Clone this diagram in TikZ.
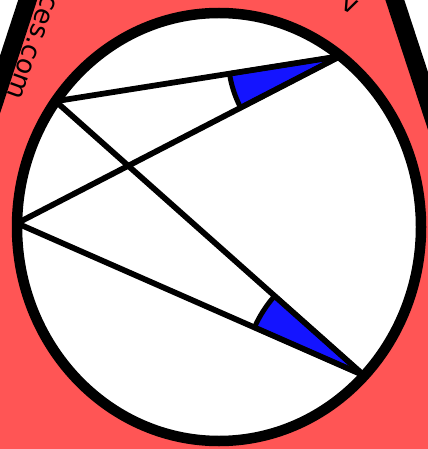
\documentclass[tikz,border=0pt]{standalone}
\usepackage{fontspec}
\setsansfont{DejaVu Sans}
\usetikzlibrary{calc}
\definecolor{badge_red}{RGB}{255, 85, 85}
\definecolor{angle_blue}{RGB}{20, 20, 255}

\begin{document}
\begin{tikzpicture}[
    x=0.02cm, y=0.02cm,
    every node/.style={font=\sffamily\fontsize{15}{18}\selectfont, inner sep=0pt},
    border/.style={draw=black, fill=badge_red, line width=0.36cm, line join=round},
    rim/.style={draw=black, fill=white, line width=0.21cm},
    chord/.style={black, line width=0.115cm, line cap=round},
    wedge/.style={fill=angle_blue, draw=black, line width=0.1cm, line join=round},
]
\useasboundingbox (0,0) rectangle (428,-449);
\clip (0,0) rectangle (428,-449);
% badge behind the circle
\draw[border] (-136,-500) -- (211,560) -- (559,-500) -- cycle;
\node[rotate=-110] (url) at (32,-47) {ces.com};
\node[rotate=-25]  (top) at (350,-5) {v};
% circle and the four points on it
\coordinate (O) at (219,-227);
\draw[rim] (O) ellipse [x radius=202, y radius=214];
\path (O) ++(144:202 and 214) coordinate (A);
\path (O) ++(53:202 and 214)  coordinate (B);
\path (O) ++(179:202 and 214) coordinate (C);
\path (O) ++(-44:202 and 214) coordinate (D);
% inscribed angles
\draw[wedge] let \p1=($(A)-(B)$), \p2=($(C)-(B)$),
    \n1={atan2(\y1,\x1)}, \n2={atan2(\y2,\x2)} in
    (B) -- ++(\n1:2.25cm) arc[start angle=\n1, end angle=\n2, radius=2.25cm] -- cycle;
\draw[wedge] let \p1=($(A)-(D)$), \p2=($(C)-(D)$),
    \n1={atan2(\y1,\x1)}, \n2={atan2(\y2,\x2)} in
    (D) -- ++(\n1:2.4cm) arc[start angle=\n1, end angle=\n2, radius=2.4cm] -- cycle;
% chords
\draw[chord] (A) -- (B);
\draw[chord] (C) -- (B);
\draw[chord] (A) -- (D);
\draw[chord] (C) -- (D);
\end{tikzpicture}
\end{document}
